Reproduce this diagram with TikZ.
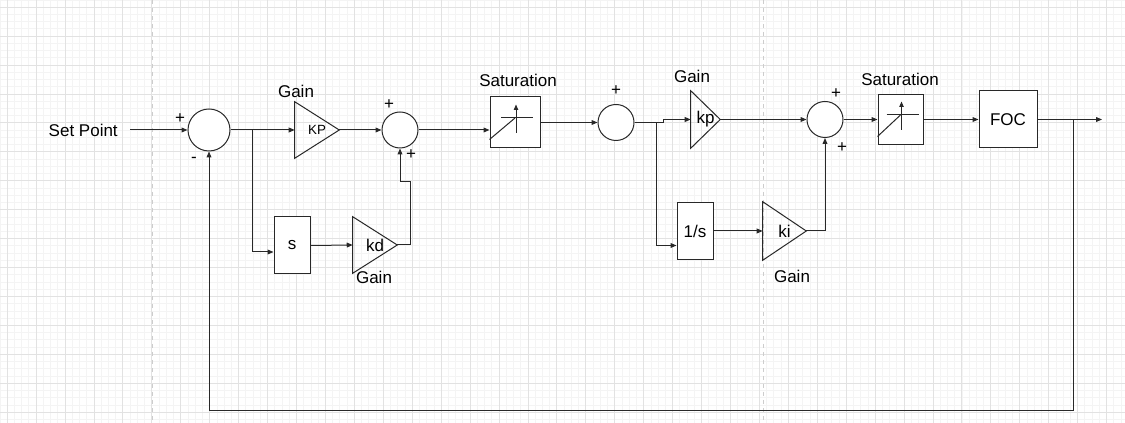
\documentclass[tikz,border=0pt]{standalone}
\usepackage{fontspec}
\setmainfont{Liberation Sans}
\usetikzlibrary{arrows.meta, positioning, calc}
\definecolor{wire}{RGB}{40,40,40}
\definecolor{gridfine}{RGB}{244,244,244}
\definecolor{gridbold}{RGB}{226,226,226}
\definecolor{pagebreak}{RGB}{205,205,205}
\tikzset{
  txt/.style={font=\fontsize{12.75}{15}\selectfont, inner sep=0pt},
  sumnode/.style={draw=wire, circle, inner sep=0pt, line width=0.75pt, fill=white},
  blockbox/.style={draw=wire, rectangle, inner sep=0pt, line width=0.75pt, fill=white, txt},
  gainbox/.style={rectangle, inner sep=0pt, txt},
  wireline/.style={draw=wire, line width=0.75pt},
  sig/.style={wireline, -{Triangle[length=4.5pt,width=3.6pt]}},
}
\begin{document}
\begin{tikzpicture}[x=0.75pt, y=-0.75pt]
        % page and drawio grid
        \fill[white] (0,0) rectangle (1125,423);
        \useasboundingbox (0,0) rectangle (1125,423);
        \foreach \i in {-1,...,154} \draw[gridfine, line width=0.5pt] ({7.1+7.233*\i},0) -- ({7.1+7.233*\i},423);
        \foreach \i in {-1,...,57} \draw[gridfine, line width=0.5pt] (0,{7.1+7.233*\i}) -- (1125,{7.1+7.233*\i});
        \foreach \i in {0,...,38} \draw[gridbold, line width=0.5pt] ({7.1+28.93*\i},0) -- ({7.1+28.93*\i},423);
        \foreach \i in {0,...,14} \draw[gridbold, line width=0.5pt] (0,{7.1+28.93*\i}) -- (1125,{7.1+28.93*\i});
        \foreach \x in {152,763} \draw[pagebreak, dashed, line width=0.5pt] (\x,0) -- (\x,423);
        % outer loop: set point and first sum
        \node[txt, anchor=east] (setpt) at (118,130) {Set Point};
        \node[sumnode, minimum size=31.5pt] (sum1) at (209,130) {};
        \node[txt] (s1plus) at (180,119) {+};
        \node[txt] (s1minus) at (194,160) {-};
        % PD part
        \node[gainbox, minimum width=33pt, minimum height=42pt] (gKP) at (317,130) {\fontsize{10}{12}\selectfont KP};
        \node[txt] (gainKP) at (296,91) {Gain};
        \node[blockbox, minimum width=27pt, minimum height=42.75pt] (sder) at (292,245.5) {s};
        \node[gainbox, minimum width=33pt, minimum height=42pt] (gkd) at (375,245) {kd};
        \node[txt] (gainkd) at (374,277) {Gain};
        \node[sumnode, minimum size=27pt] (sum2) at (400,130) {};
        \node[txt] (s2plusa) at (389,105) {+};
        \node[txt] (s2plusb) at (411,155) {+};
        % saturation and current loop sum
        \node[blockbox, minimum width=37.5pt, minimum height=38.25pt] (sat1) at (515,122.5) {};
        \node[txt] (satlbl1) at (518,80) {Saturation};
        \node[sumnode, minimum size=27pt] (sum3) at (616,122.5) {};
        \node[txt] (s3plus) at (616,91) {+};
        % PI part
        \node[gainbox, minimum width=21.75pt, minimum height=42.75pt] (gkp) at (705.5,119.5) {kp};
        \node[txt] (gainkp) at (692,76) {Gain};
        \node[blockbox, minimum width=27pt, minimum height=42.75pt] (integ) at (695,231) {1/s};
        \node[gainbox, minimum width=32.25pt, minimum height=43.5pt] (gki) at (784.5,231) {ki};
        \node[txt] (gainki) at (792,276) {Gain};
        \node[sumnode, minimum size=27pt] (sum4) at (825,119.5) {};
        \node[txt] (s4plusa) at (836,94) {+};
        \node[txt] (s4plusb) at (842,148) {+};
        \node[blockbox, minimum width=33.75pt, minimum height=37.5pt] (sat2) at (900.5,119.5) {};
        \node[txt] (satlbl2) at (900,79) {Saturation};
        \node[blockbox, minimum width=43.5pt, minimum height=42.75pt] (foc) at (1008,119.5) {FOC};
        % gain triangles
        \foreach \g in {gKP,gkd,gkp,gki}
          \draw[wireline] (\g.north west) -- (\g.east) -- (\g.south west) -- cycle;
        % saturation glyphs
        \foreach \s in {sat1,sat2} {
          \draw[wireline] ($(\s.west)+(0,17)$) -- ($(\s.center)+(0,-4.5)$);
          \draw[wireline] ($(\s.center)+(-14,-4.5)$) -- ($(\s.center)+(18,-4.5)$);
          \draw[wireline, -{Triangle[length=4pt,width=3.2pt]}] ($(\s.center)+(1,10.5)$) -- ($(\s.center)+(1,-18)$);
        }
        % connectors
        \coordinate (br1) at (252,130);
        \coordinate (kdjog) at (410,182);
        \coordinate (br2) at (656,122.5);
        \coordinate (jog2) at (663,122.5);
        \coordinate (outend) at (1102,119.5);
        \coordinate (fbtap) at (1073,119.5);
        \coordinate (fbcorner) at (1073,410.5);
        \draw[sig] ([xshift=9pt]setpt.east) -- (sum1.west);
        \draw[sig] (sum1.east) -- (gKP.west);
        \draw[sig] (br1) |- ($(sder.west)+(0,6.5)$);
        \draw[sig] (sder.east) -- (gkd.west);
        \draw[sig] (gKP.east) -- (sum2.west);
        \draw[sig] (gkd.east) -| (kdjog) -| (sum2.south);
        \draw[sig] (sum2.east) -- (sat1.west |- sum2.east);
        \draw[sig] (sat1.east) -- (sum3.west);
        \draw[wireline] (sum3.east) -- (br2);
        \draw[sig] (br2) -- (jog2) |- (gkp.west);
        \draw[sig] (br2) |- ($(integ.west)+(0,14.5)$);
        \draw[sig] (integ.east) -- (gki.west);
        \draw[sig] (gkp.east) -- (sum4.west);
        \draw[sig] (gki.east) -| (sum4.south);
        \draw[sig] (sum4.east) -- (sat2.west);
        \draw[sig] (sat2.east) -- (foc.west);
        \draw[sig] (foc.east) -- (outend);
        % feedback
        \draw[sig] (fbtap) -- (fbcorner) -| (sum1.south);
      \end{tikzpicture}
\end{document}
